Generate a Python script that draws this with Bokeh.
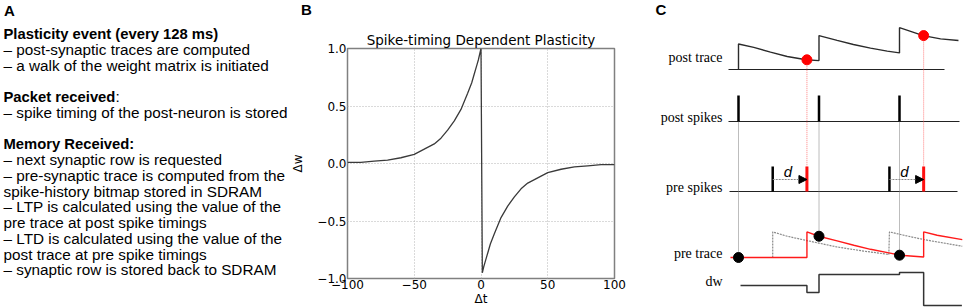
from bokeh.plotting import figure
from bokeh.layouts import row, column
from bokeh.models import Range1d, FixedTicker, Arrow, NormalHead, Div
from bokeh.core.properties import value
from bokeh.embed import file_html
from bokeh.resources import INLINE

# ---------------- Panel A : text ----------------
a_lines = [
    "Plasticity event (every 128 ms)",
    "– post-synaptic traces are computed",
    "– a walk of the weight matrix is initiated",
    "",
    "Packet received",
    "– spike timing of the post-neuron is stored",
    "",
    "Memory Received:",
    "– next synaptic row is requested",
    "– pre-synaptic trace is computed from the",
    "spike-history bitmap stored in SDRAM",
    "– LTP is calculated using the value of the",
    "pre trace at post spike timings",
    "– LTD is calculated using the value of the",
    "post trace at pre spike timings",
    "– synaptic row is stored back to SDRAM",
]
a_bold = [0, 4, 7]

# ---------------- Panel B : STDP curve ----------------
stdp_dt = [-100, -90, -80, -70, -60, -50, -45, -40, -35, -30, -25, -20, -15, -10, -7, -5, -3, -2, -1, 0,
           1, 2, 3, 5, 7, 10, 15, 20, 25, 30, 35, 40, 45, 50, 60, 70, 80, 90, 100]
stdp_dw = [0.01, 0.01, 0.02, 0.03, 0.05, 0.08, 0.11, 0.14, 0.17, 0.22, 0.29, 0.37, 0.47, 0.61, 0.70, 0.78, 0.86, 0.90, 0.95, 1.0,
           -0.95, -0.90, -0.86, -0.78, -0.70, -0.61, -0.47, -0.37, -0.29, -0.22, -0.17, -0.14, -0.11, -0.08, -0.05, -0.03, -0.02, -0.01, -0.01]
x_ticks = [-100, -50, 0, 50, 100]
x_tick_labels = ["−100", "−50", "0", "50", "100"]
y_ticks = [-1.0, -0.5, 0.0, 0.5, 1.0]
y_tick_labels = ["−1.0", "−0.5", "0.0", "0.5", "1.0"]

# ---------------- Panel C : schematic ----------------
post_spike_t = [5, 45, 85]
pre_spike_t = [22, 80]
delay_d = 17
post_trace_t = [5, 5, 12.6, 20.9, 29.2, 38.6, 45, 45, 54, 62.1, 70.6, 78.9, 85, 85, 96.8, 105.4, 114.3]
post_trace_v = [0, 1.0, 0.87, 0.68, 0.51, 0.38, 0.35, 1.33, 1.14, 0.98, 0.84, 0.72, 0.65, 1.64, 1.33, 1.20, 1.14]
pre_trace_t = [22, 22, 29.2, 39.6, 54, 67.2, 79.7, 80, 87.1, 97.1, 116.2]
pre_trace_v = [0, 1.0, 0.83, 0.65, 0.41, 0.25, 0.12, 1.0, 0.87, 0.70, 0.44]
delayed_trace_t = [1, 39, 39, 44.9, 54, 62.3, 70.6, 79.7, 85.5, 97, 97, 103.7, 116.2]
delayed_trace_v = [0, 0, 1.0, 0.83, 0.65, 0.48, 0.32, 0.18, 0.09, 0.02, 1.0, 0.87, 0.70]
pre_at_post_v = [0, 0.83, 0.09]      # delayed pre trace read at post spikes
post_at_pre_v = [0.38, 1.33]         # post trace read at delayed pre spikes
dw_t = [6, 39, 45, 85, 97, 116]
dw_v = [0, -0.35, 0.55, 0.65, -1.0, -1.0]
row_names = ["post trace", "post spikes", "pre spikes", "pre trace", "dw"]

# ================= figures =================
H = 308
SANS = "Liberation Sans"
WA = 288

# ---- A ----
pA = figure(width=WA, height=H, x_range=Range1d(0, WA), y_range=Range1d(308, 0),
            x_axis_type=None, y_axis_type=None, output_backend="svg", toolbar_location=None,
            min_border=0, outline_line_color=None, frame_align=False)
line_y = [33 + 15.75 * i for i in range(len(a_lines))]
bx, by, bt, nx, ny, nt = [], [], [], [], [], []
for i, s in enumerate(a_lines):
    if not s:
        continue
    if i in a_bold:
        bx.append(3); by.append(line_y[i]); bt.append(s)
    else:
        nx.append(3); ny.append(line_y[i]); nt.append(s)
pA.text(x=bx, y=by, text=bt, text_font=value(SANS), text_font_size="14.8px", text_font_style="bold",
        text_baseline="middle", text_align="left", text_color="black")
pA.text(x=nx, y=ny, text=nt, text_font=value(SANS), text_font_size="15.3px",
        text_baseline="middle", text_align="left", text_color="black")
# colon after "Packet received" (regular weight)
pA.text(x=[3 + 112], y=[line_y[4]], text=[":"], text_font=value(SANS), text_font_size="15.3px",
        text_baseline="middle", text_align="left", text_color="black")
pA.text(x=[3.5], y=[1.5], text=["A"], text_font=value(SANS), text_font_size="15px", text_font_style="bold",
        text_baseline="top", text_align="left", text_color="black")

# ---- B ----
DV = "DejaVu Sans"
DIV_H = 22
WB = 640 - WA
labB = Div(text="<span style='font-family:Liberation Sans;font-size:15px;font-weight:bold;color:black'>B</span>",
           width=WB, height=DIV_H, margin=(0, 0, 0, 0),
           styles={"padding-left": f"{302 - WA - 1}px", "padding-top": "1px", "line-height": "17px",
                   "font-family": "Liberation Sans", "font-size": "15px", "font-weight": "bold"})
pB = figure(width=WB, height=H - DIV_H, x_range=Range1d(-100, 100), y_range=Range1d(-1, 1),
            output_backend="svg", toolbar_location=None, frame_align=False,
            min_border_left=347 - WA, min_border_right=26, min_border_top=48 - DIV_H, min_border_bottom=29,
            title="Spike-timing Dependent Plasticity")
pB.title.align = "center"
pB.title.text_font = DV
pB.title.text_font_size = "13.5px"
pB.title.text_font_style = "normal"
pB.title.text_color = "black"
pB.title.standoff = 2
pB.outline_line_color = "#808080"
pB.outline_line_width = 1.5
for ax, ticks, labs in ((pB.xaxis[0], x_ticks, x_tick_labels), (pB.yaxis[0], y_ticks, y_tick_labels)):
    ax.ticker = FixedTicker(ticks=ticks)
    ax.major_label_overrides = {t: l for t, l in zip(ticks, labs)}
    ax.axis_line_color = None
    ax.major_tick_line_color = None
    ax.minor_tick_line_color = None
    ax.major_tick_out = 0
    ax.major_label_standoff = 1
    ax.major_label_text_font = DV
    ax.major_label_text_font_size = "12px"
    ax.major_label_text_color = "black"
    ax.axis_label_text_font = DV
    ax.axis_label_text_font_size = "12px"
    ax.axis_label_text_font_style = "normal"
    ax.axis_label_text_color = "black"
pB.xaxis.axis_label = "Δt"
pB.xaxis.axis_label_standoff = 0
pB.yaxis.axis_label = "Δw"
pB.yaxis.axis_label_standoff = 9
pB.xgrid.ticker = FixedTicker(ticks=x_ticks)
pB.ygrid.ticker = FixedTicker(ticks=y_ticks)
pB.grid.grid_line_color = "#b5b5b5"
pB.grid.grid_line_dash = "1 2"
pB.grid.grid_line_width = 1
pB.line(stdp_dt, stdp_dw, line_color="#3a3a3a", line_width=1.3)

# ---- C ----
PX_PER_MS = 2.0125
def t_of(px):
    return 5 + (px - 738) / PX_PER_MS

row_base = {"post trace": 69, "post spikes": 121, "pre spikes": 191, "pre trace": 257, "dw": 285}
row_scale = {"post trace": 25.5, "post spikes": 26, "pre spikes": 25, "pre trace": 25.6, "dw": 20}
label_y = {"post trace": 57, "post spikes": 117, "pre spikes": 187, "pre trace": 253, "dw": 281}

def ry(name, vals):
    return [row_base[name] - row_scale[name] * v for v in vals]

pC = figure(width=324, height=H, x_range=Range1d(t_of(640), t_of(964)), y_range=Range1d(308, 0),
            x_axis_type=None, y_axis_type=None, output_backend="svg", toolbar_location=None,
            min_border=0, outline_line_color=None, frame_align=False)

# row baselines
pC.segment(x0=[t_of(728), t_of(728), t_of(729)], x1=[t_of(944), t_of(959), t_of(957)],
           y0=[row_base["post trace"], row_base["post spikes"], row_base["pre spikes"]],
           y1=[row_base["post trace"], row_base["post spikes"], row_base["pre spikes"]],
           line_color="#222222", line_width=1.2)

# dotted guide lines
pC.segment(x0=post_spike_t, x1=post_spike_t,
           y0=[row_base["post spikes"]] * 3, y1=ry("pre trace", pre_at_post_v),
           line_color="#7a7a7a", line_dash="1 1", line_width=1)
red_t = [t + delay_d for t in pre_spike_t]
pC.segment(x0=red_t, x1=red_t, y0=ry("post trace", post_at_pre_v),
           y1=ry("pre spikes", [1, 1]), line_color="#ff8080", line_dash="1 1", line_width=1)

# post trace
pC.line(post_trace_t, ry("post trace", post_trace_v), line_color="#2b2b2b", line_width=1.4)
# spikes
pC.segment(x0=post_spike_t, x1=post_spike_t, y0=ry("post spikes", [0] * 3), y1=ry("post spikes", [1] * 3),
           line_color="black", line_width=2.5)
pC.segment(x0=pre_spike_t, x1=pre_spike_t, y0=ry("pre spikes", [0] * 2), y1=ry("pre spikes", [1] * 2),
           line_color="black", line_width=2.5)
pC.segment(x0=red_t, x1=red_t, y0=ry("pre spikes", [0] * 2), y1=ry("pre spikes", [1] * 2),
           line_color="#ff1010", line_width=3)
# delay arrows
for t0, t1 in zip(pre_spike_t, red_t):
    ay = ry("pre spikes", [0.48])[0]
    pC.add_layout(Arrow(x_start=t0, y_start=ay, x_end=t1, y_end=ay, line_color="#8a8a8a",
                        line_dash="2 1", line_width=1,
                        end=NormalHead(size=8, fill_color="black", line_color="black")))
pC.text(x=[(a + b) / 2 - 1 for a, b in zip(pre_spike_t, red_t)], y=[171, 171], text=["d", "d"],
        text_font=value(SANS), text_font_size="15px", text_font_style="italic",
        text_align="center", text_baseline="middle", text_color="black")

# pre traces
pC.line(pre_trace_t, ry("pre trace", pre_trace_v), line_color="#8a8a8a", line_dash="2 1", line_width=1.2)
pC.line(delayed_trace_t, ry("pre trace", delayed_trace_v), line_color="#ff1a1a", line_width=1.4)

# dw
pC.step(dw_t, ry("dw", dw_v), mode="after", line_color="#333333", line_width=1.5)

# dots
pC.scatter(post_spike_t, ry("pre trace", pre_at_post_v), size=10, fill_color="black", line_color="black")
pC.scatter(red_t, ry("post trace", post_at_pre_v), size=10, fill_color="#ff0000", line_color="#ff0000")

# row labels
pC.text(x=[t_of(722)] * len(row_names), y=[label_y[n] for n in row_names], text=row_names,
        text_font=value("Liberation Serif"), text_font_size="14px", text_align="right",
        text_baseline="middle", text_color="black")
pC.text(x=[t_of(655)], y=[0.5], text=["C"], text_font=value(SANS), text_font_size="15px",
        text_font_style="bold", text_baseline="top", text_align="left", text_color="black")

layout = row(pA, column(labB, pB, spacing=0), pC, spacing=0)
open("out.html", "w").write(file_html(layout, INLINE))
